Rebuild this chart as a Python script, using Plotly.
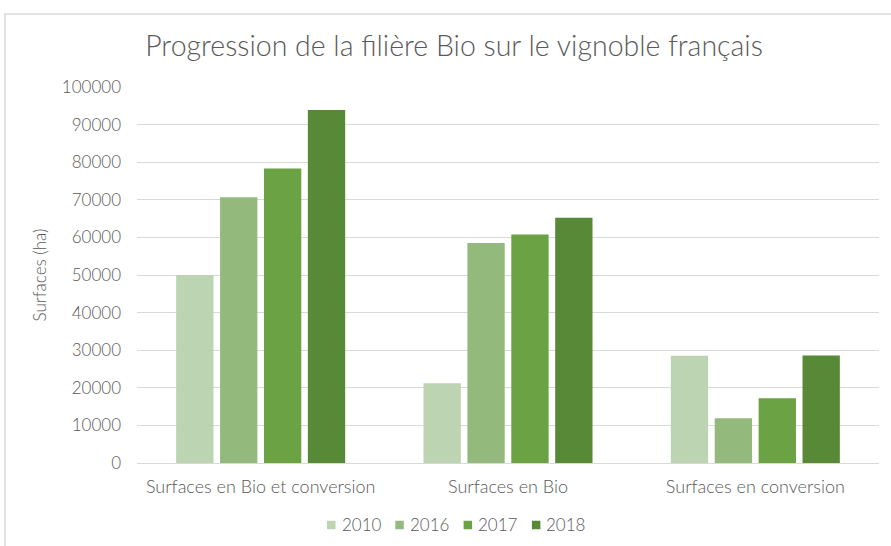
import plotly.graph_objects as go

categories = ["Surfaces en Bio et conversion", "Surfaces en Bio", "Surfaces en conversion"]
years = ["2010", "2016", "2017", "2018"]
values_2010 = [50000, 21200, 28500]
values_2016 = [70700, 58500, 11900]
values_2017 = [78300, 60800, 17200]
values_2018 = [93900, 65200, 28600]
colors = ["#bcd4b1", "#93ba7c", "#6aa244", "#578937"]
yticks = list(range(0, 100001, 10000))

series = [values_2010, values_2016, values_2017, values_2018]

W, H = 891, 546
L, R, T, B = 137, 12, 87, 83
pw, ph = W - L - R, H - T - B


def px_x(px):
    return (px - L) / pw


def px_y(py):
    return (H - B - py) / ph


fig = go.Figure()
for yr, vals, col in zip(years, series, colors):
    fig.add_trace(go.Bar(x=categories, y=vals, name=yr, showlegend=False,
                         marker=dict(color=col, line=dict(width=0))))

font_family = "Lato, 'Open Sans', sans-serif"
txt = "#595959"

shapes = [dict(type="rect", xref="paper", yref="paper",
               x0=px_x(5), x1=px_x(W + 20),
               y0=px_y(H + 20), y1=px_y(14),
               line=dict(color="#d9d9d9", width=1.5), fillcolor="rgba(0,0,0,0)", layer="below")]
annotations = []

# custom legend (horizontal, centred under the plot)
leg_x0, leg_step, sq, leg_y = 327, 68.3, 8.5, 525
for i, (yr, col) in enumerate(zip(years, colors)):
    x0 = leg_x0 + i * leg_step
    shapes.append(dict(type="rect", xref="paper", yref="paper",
                       x0=px_x(x0), x1=px_x(x0 + sq),
                       y0=px_y(leg_y + sq / 2), y1=px_y(leg_y - sq / 2),
                       line=dict(width=0), fillcolor=col))
    annotations.append(dict(text=yr, xref="paper", yref="paper",
                            x=px_x(x0 + sq + 4), y=px_y(leg_y - 0.5),
                            xanchor="left", yanchor="middle", showarrow=False,
                            font=dict(size=17, color=txt, family=font_family, weight=300)))

fig.update_layout(
    width=W, height=H,
    margin=dict(l=L, r=R, t=T, b=B, autoexpand=False),
    paper_bgcolor="white", plot_bgcolor="white",
    barmode="group", bargap=0.29, bargroupgap=0.15,
    font=dict(family=font_family, color=txt, weight=300),
    showlegend=False,
    title=dict(text="Progression de la filière Bio sur le vignoble français",
               x=454 / W, xanchor="center", y=1 - 46 / H, yanchor="middle",
               font=dict(size=28.5, color=txt, family=font_family, weight=300)),
    xaxis=dict(showline=True, linecolor="#d9d9d9", linewidth=1, ticks="",
               ticklabelstandoff=7,
               tickfont=dict(size=18, color=txt, weight=300)),
    yaxis=dict(range=[0, 100000], tickvals=yticks, ticktext=[str(v) for v in yticks],
               showgrid=True, gridcolor="#d9d9d9", gridwidth=1, zeroline=False,
               tickfont=dict(size=17, color=txt, weight=300), ticklabelstandoff=15,
               title=dict(text="Surfaces (ha)", font=dict(size=17, color=txt, weight=300), standoff=10)),
    shapes=shapes,
    annotations=annotations,
)

fig.write_html("out.html", config={"displayModeBar": False},
               post_script="document.body.style.margin='0px';document.body.style.overflow='hidden';")
